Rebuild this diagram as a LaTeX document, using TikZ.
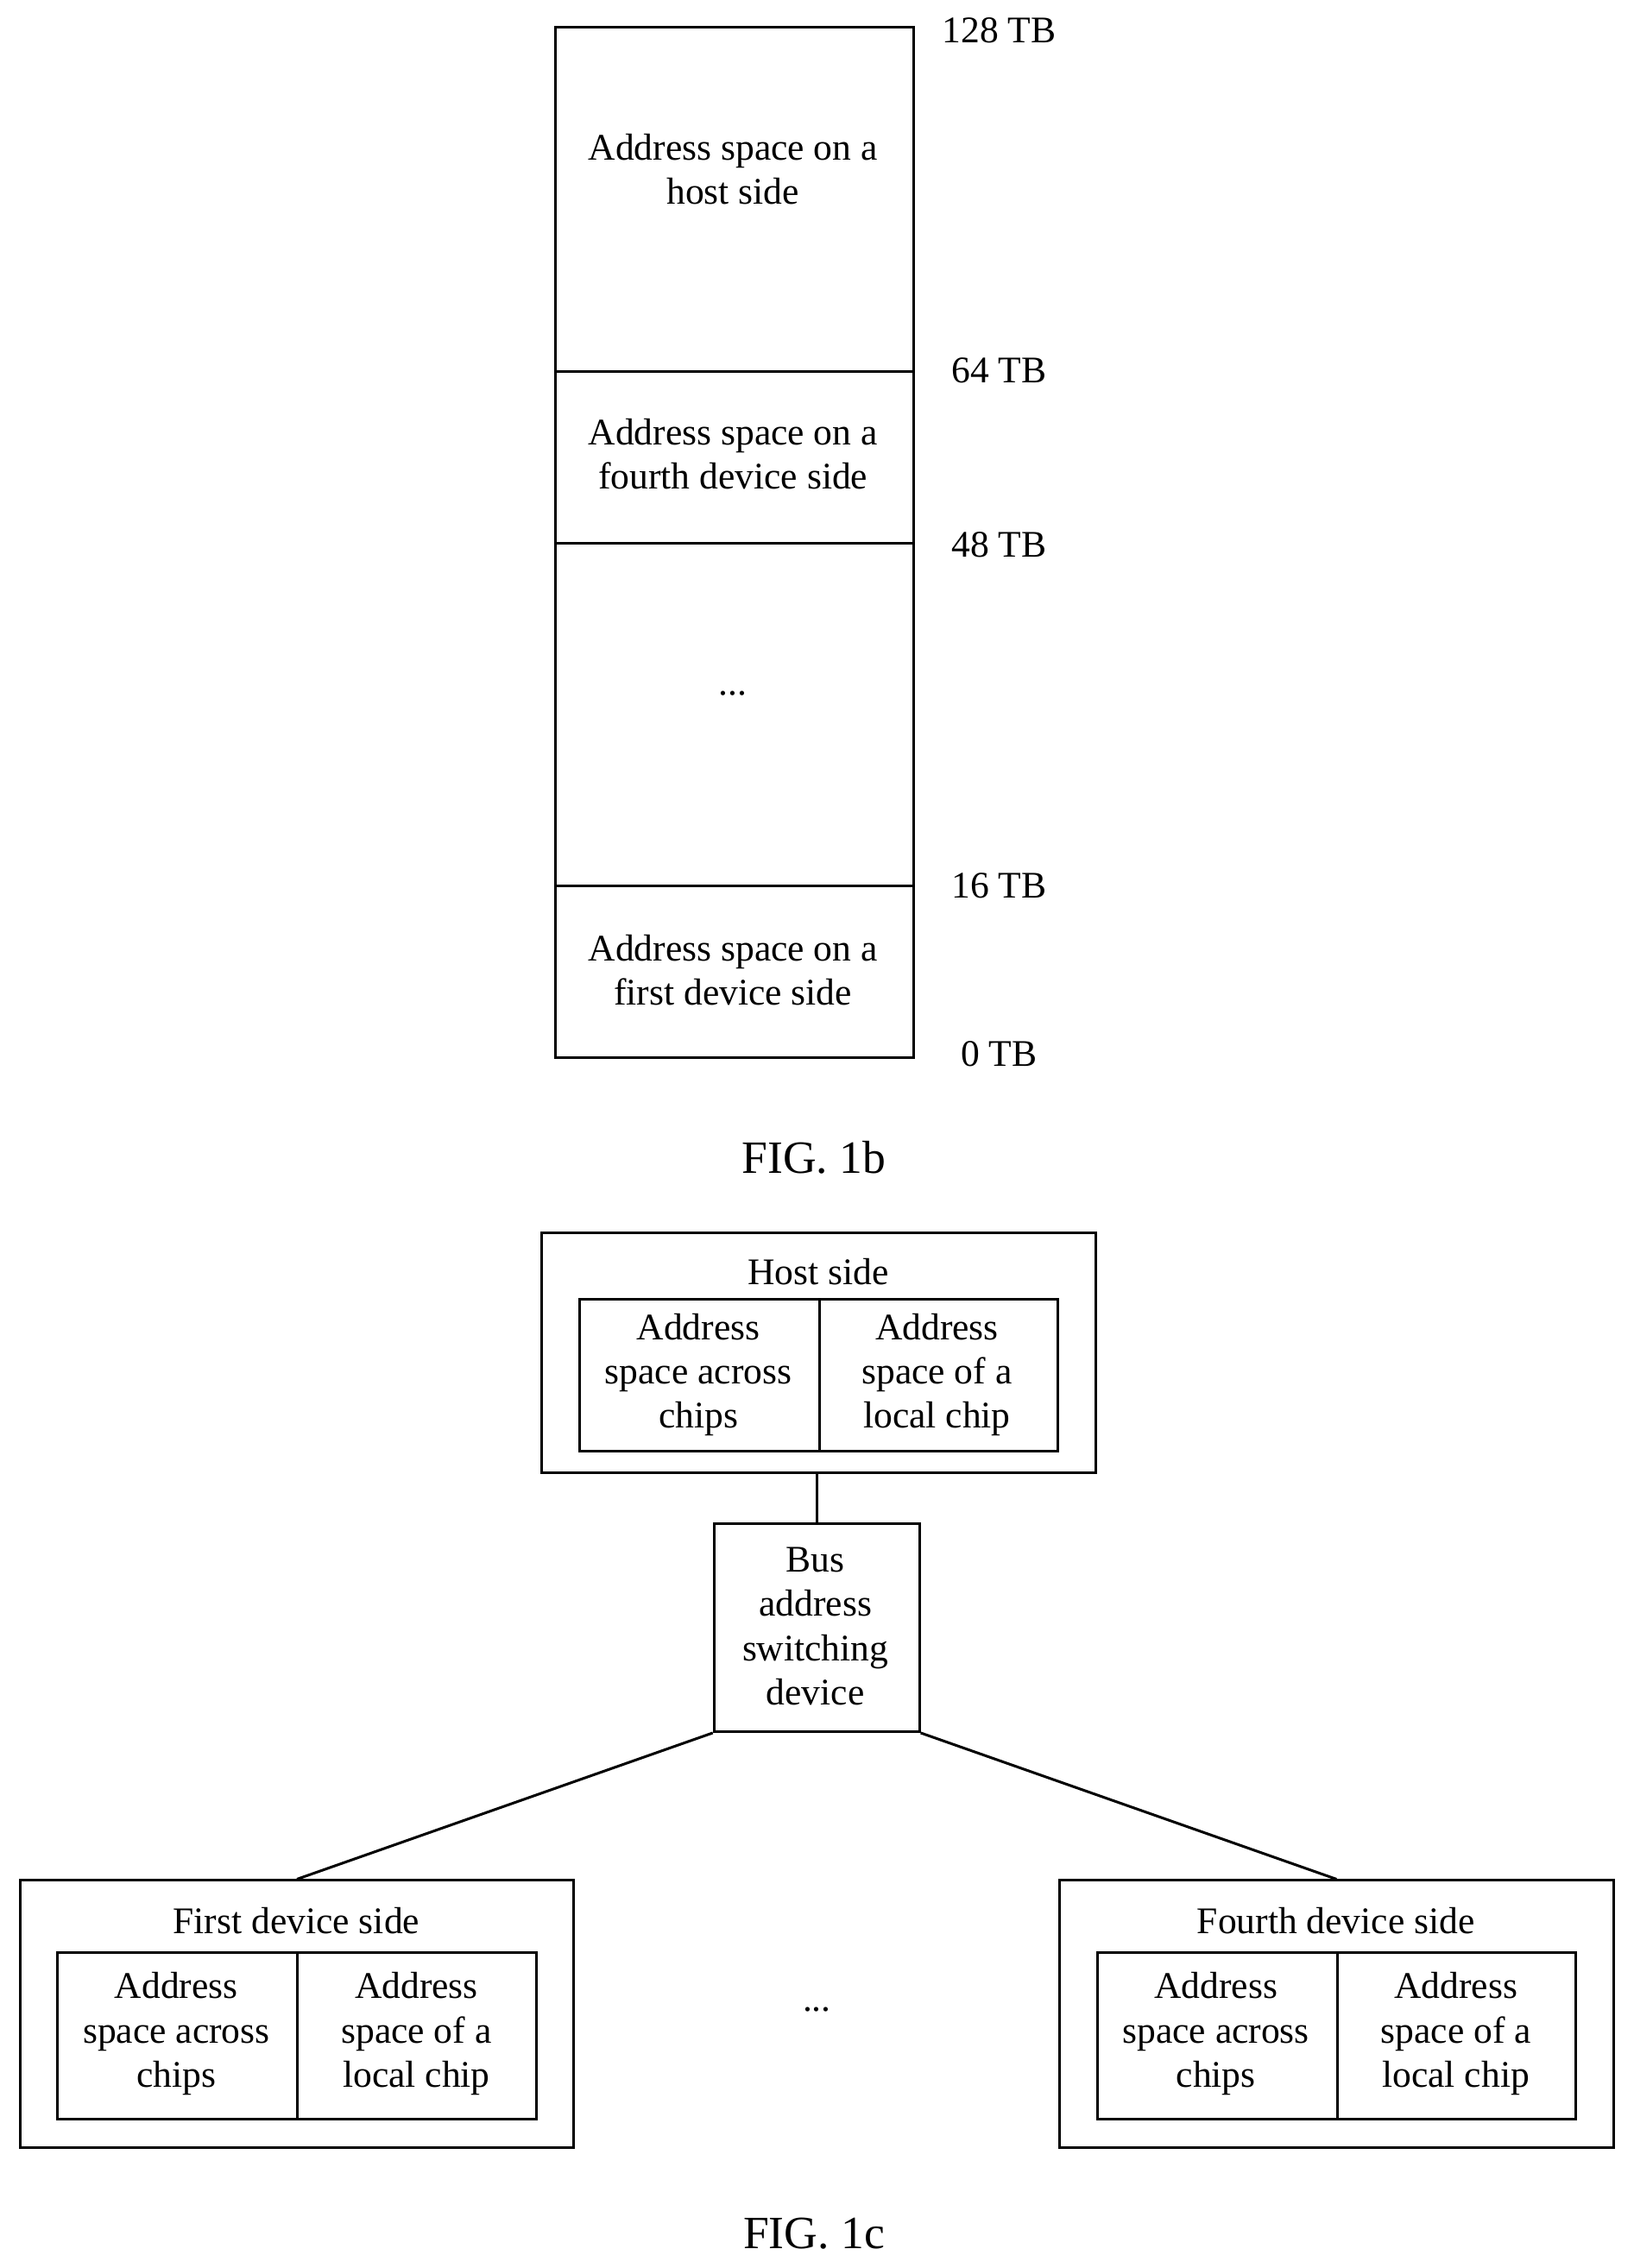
\documentclass[tikz,border=0pt]{standalone}
\usepackage{fontspec}
\setmainfont{Liberation Serif}
\begin{document}
\begin{tikzpicture}[x=0.5pt,y=-0.5pt,
 box/.style={draw,line width=0.9pt,inner sep=0pt,anchor=north west},
 txt/.style={align=center,font=\fontsize{13}{15.3}\selectfont},
 lbl/.style={font=\fontsize{13}{15}\selectfont},
 figcap/.style={font=\fontsize{16}{18}\selectfont},
 ln/.style={line width=0.9pt}]
\useasboundingbox (0,0) rectangle (1130,1569);
% FIG 1b
\node[box,minimum width=124pt,minimum height=119pt] (h) at (383,18) {};
\node[box,minimum width=124pt,minimum height=59.5pt] (f4) at (383,256) {};
\node[box,minimum width=124pt,minimum height=118.5pt] (dd) at (383,375) {};
\node[box,minimum width=124pt,minimum height=59.5pt] (f1) at (383,612) {};
\node[txt] at (507,117) {Address space on a\\host side};
\node[txt] at (507,314) {Address space on a\\fourth device side};
\node[txt] at (507,480) {...};
\node[txt] at (507,671) {Address space on a\\first device side};
\node[lbl] at (691,21) {128 TB};
\node[lbl] at (691,256) {64 TB};
\node[lbl] at (691,377) {48 TB};
\node[lbl] at (691,613) {16 TB};
\node[lbl] at (691,729) {0 TB};
\node[figcap] at (563,801) {FIG. 1b};
% FIG 1c
\node[box,minimum width=191.5pt,minimum height=83pt] (host) at (374,852) {};
\node[lbl] at (566,880) {Host side};
\node[box,minimum width=83pt,minimum height=52.5pt] (ha) at (400,898) {};
\node[box,minimum width=82.5pt,minimum height=52.5pt] (hb) at (566,898) {};
\node[txt] at (483,951) {Address\\space across\\chips};
\node[txt] at (648,951) {Address\\space of a\\local chip};
\node[box,minimum width=71pt,minimum height=72pt] (bus) at (493,1053) {};
\node[txt] at (564,1125) {Bus\\address\\switching\\device};
\node[box,minimum width=191.5pt,minimum height=92.5pt] (first) at (13,1300) {};
\node[lbl] at (205,1329) {First device side};
\node[box,minimum width=83pt,minimum height=57.5pt] at (39,1350) {};
\node[box,minimum width=82.5pt,minimum height=57.5pt] at (205,1350) {};
\node[txt] at (122,1407) {Address\\space across\\chips};
\node[txt] at (288,1407) {Address\\space of a\\local chip};
\node[box,minimum width=191.5pt,minimum height=92.5pt] (fourth) at (732,1300) {};
\node[lbl] at (924,1329) {Fourth device side};
\node[box,minimum width=83pt,minimum height=57.5pt] at (758,1350) {};
\node[box,minimum width=82.5pt,minimum height=57.5pt] at (924,1350) {};
\node[txt] at (841,1407) {Address\\space across\\chips};
\node[txt] at (1007,1407) {Address\\space of a\\local chip};
\node[txt] at (565,1390) {...};
\draw[ln] (host.south -| bus.north) -- (bus.north);
\draw[ln] (bus.south west) -- (first.north);
\draw[ln] (bus.south east) -- (fourth.north);
\node[figcap] at (563,1545) {FIG. 1c};
\end{tikzpicture}
\end{document}
